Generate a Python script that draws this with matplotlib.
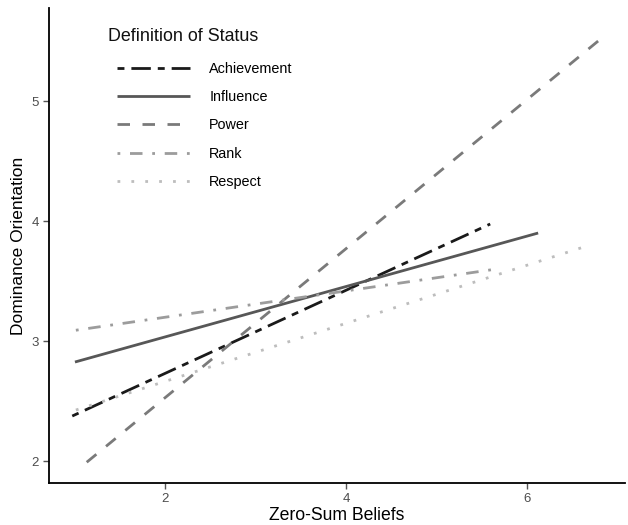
import matplotlib
matplotlib.use("Agg")
import matplotlib.pyplot as plt

plt.rcParams['font.family'] = ['Liberation Sans', 'DejaVu Sans']

categories = ["Achievement", "Influence", "Power", "Rank", "Respect"]
x_start = [0.97, 1.0, 1.13, 1.01, 1.01]
x_end = [5.59, 6.12, 6.88, 5.66, 6.61]
y_start = [2.375, 2.825, 1.99, 3.09, 2.425]
y_end = [3.975, 3.90, 5.56, 3.60, 3.78]

colors = ["#1a1a1a", "#575757", "#7a7a7a", "#9c9c9c", "#bdbdbd"]
dashes = [(2.5, 2.5, 7, 2.5), None, (4.5, 4.5), (1, 3.5, 4.5, 3.5), (1, 4)]

fig = plt.figure(figsize=(6.28, 5.25), dpi=100)
ax = fig.add_axes([49/628, 1-483/525, (625-49)/628, (483-8)/525])

for cat, x0, x1, y0, y1, c, d in zip(categories, x_start, x_end, y_start, y_end, colors, dashes):
    line, = ax.plot([x0, x1], [y0, y1], color=c, lw=2.0, label=cat, solid_capstyle='butt', dash_capstyle='butt')
    if d is not None:
        line.set_dashes(d)

ax.set_xlim(0.713, 7.08)
ax.set_ylim(1.817, 5.775)
ax.set_xticks([2, 4, 6])
ax.set_yticks([2, 3, 4, 5])
ax.tick_params(colors='#555555', labelsize=9.5, length=4, width=1, direction='out')
ax.tick_params(axis='both', labelcolor='#4d4d4d')
for s in ['top', 'right']:
    ax.spines[s].set_visible(False)
for s in ['left', 'bottom']:
    ax.spines[s].set_linewidth(1.3)
    ax.spines[s].set_color('black')

ax.set_xlabel("Zero-Sum Beliefs", fontsize=12.7, labelpad=1)
ax.set_ylabel("Dominance Orientation", fontsize=12.5, labelpad=4)

ax.text(0.1024, 0.94, "Definition of Status", transform=ax.transAxes, fontsize=12.9,
        ha='left', va='center', color='#111111')

leg = ax.legend(loc='upper left', bbox_to_anchor=(0.1076, 0.899), frameon=False,
                fontsize=10.4, handlelength=5.1, handletextpad=1.3, labelspacing=0.99,
                borderaxespad=0)

fig.savefig("out.png", dpi=100)
